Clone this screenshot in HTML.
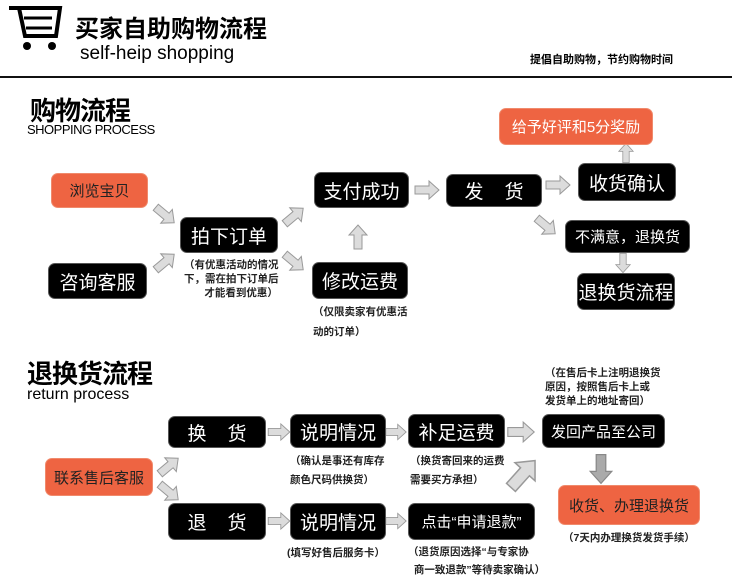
<!DOCTYPE html>
<html><head><meta charset="utf-8"><style>
body{margin:0;width:732px;height:578px;background:#fff;position:relative;overflow:hidden;font-family:"Liberation Sans","Noto Sans CJK SC",sans-serif;}
.a{position:absolute;white-space:nowrap;}
.b{position:absolute;background:#000;color:#fff;border-radius:7px;border:1px solid #555;display:flex;align-items:center;justify-content:center;font-size:19px;box-sizing:border-box;white-space:nowrap;}
.o{background:#ee6442;border-color:#f08a6c;}
.s{position:absolute;font-size:10.5px;font-weight:bold;color:#222;line-height:17px;white-space:nowrap;}
</style></head><body>
<svg class="a" style="left:0;top:0" width="732" height="578">
<g stroke="#000" fill="none" stroke-width="4">
<path d="M9 8 H19 L25 36 H56 L60 8 H19"/>
<path d="M24 18 H52 M26 28 H52" stroke-width="3"/>
</g>
<circle cx="27" cy="46" r="4" fill="#000"/><circle cx="52" cy="46" r="4" fill="#000"/>
<line x1="0" y1="77" x2="732" y2="77" stroke="#111" stroke-width="2"/>
<defs><path id="ar" d="M-12,-4 H2 V-9 L12,0 L2,9 V4 H-12 Z" fill="#dcdcdc" stroke="#999" stroke-width="1"/>
<path id="ad" d="M-12,-4 H2 V-9 L12,0 L2,9 V4 H-12 Z" fill="#aaa" stroke="#888" stroke-width="1"/></defs>
<use href="#ar" transform="translate(165,215) rotate(40)"/>
<use href="#ar" transform="translate(165,262) rotate(-40)"/>
<use href="#ar" transform="translate(294,216) rotate(-40)"/>
<use href="#ar" transform="translate(294,262) rotate(40)"/>
<use href="#ar" transform="translate(358,237) rotate(-90)"/>
<use href="#ar" transform="translate(427,190)"/>
<use href="#ar" transform="translate(558,185)"/>
<use href="#ar" transform="translate(546,226) rotate(40)"/>
<use href="#ar" transform="translate(626,153) rotate(-90) scale(0.8)"/>
<use href="#ar" transform="translate(623,263) rotate(90) scale(0.8)"/>
<use href="#ar" transform="translate(169,466) rotate(-40)"/>
<use href="#ar" transform="translate(169,492) rotate(40)"/>
<use href="#ar" transform="translate(279,432) scale(0.9)"/>
<use href="#ar" transform="translate(396,432) scale(0.85)"/>
<use href="#ar" transform="translate(521,432) scale(1.1)"/>
<use href="#ar" transform="translate(279,521) scale(0.9)"/>
<use href="#ar" transform="translate(396,521) scale(0.85)"/>
<use href="#ar" transform="translate(523,474) rotate(-48) scale(1.5)"/>
<use href="#ad" transform="translate(601,469) rotate(90) scale(1.2)"/>
</svg>
<div class="a" style="left:75px;top:9px;font-size:24px;font-weight:bold;">买家自助购物流程</div>
<div class="a" style="left:80px;top:43px;font-size:19px;">self-heip shopping</div>
<div class="a" style="left:530px;top:51px;font-size:11px;font-weight:bold;">提倡自助购物，节约购物时间</div>
<div class="a" style="left:30px;top:91px;font-size:26px;font-weight:bold;letter-spacing:-1px;">购物流程</div>
<div class="a" style="left:27px;top:122px;font-size:13px;letter-spacing:-0.5px;">SHOPPING PROCESS</div>
<div class="b o" style="left:499px;top:108px;width:154px;height:37px;font-size:15px;">给予好评和5分奖励</div>
<div class="b o" style="left:51px;top:173px;width:97px;height:35px;font-size:15px;color:#222;">浏览宝贝</div>
<div class="b" style="left:314px;top:172px;width:95px;height:36px;">支付成功</div>
<div class="b" style="left:446px;top:174px;width:96px;height:33px;">发&nbsp;&nbsp;&nbsp;&nbsp;货</div>
<div class="b" style="left:578px;top:163px;width:98px;height:38px;">收货确认</div>
<div class="b" style="left:180px;top:217px;width:98px;height:36px;">拍下订单</div>
<div class="b" style="left:48px;top:263px;width:99px;height:36px;">咨询客服</div>
<div class="b" style="left:312px;top:262px;width:96px;height:37px;">修改运费</div>
<div class="b" style="left:565px;top:220px;width:125px;height:33px;font-size:15px;">不满意，退换货</div>
<div class="b" style="left:577px;top:273px;width:98px;height:37px;">退换货流程</div>
<div class="s" style="left:184px;top:258px;line-height:14px;">（有优惠活动的情况<br>下，需在拍下订单后<br>&nbsp;&nbsp;&nbsp;&nbsp;&nbsp;&nbsp;&nbsp;才能看到优惠）</div>
<div class="s" style="left:313px;top:302px;line-height:20px;">（仅限卖家有优惠活<br>动的订单）</div>
<div class="a" style="left:27px;top:354px;font-size:26px;font-weight:bold;letter-spacing:-1px;">退换货流程</div>
<div class="a" style="left:27px;top:386px;font-size:16px;">return process</div>
<div class="s" style="left:545px;top:366px;line-height:14px;">（在售后卡上注明退换货<br>原因，按照售后卡上或<br>发货单上的地址寄回）</div>
<div class="b" style="left:168px;top:416px;width:98px;height:32px;">换&nbsp;&nbsp;&nbsp;&nbsp;货</div>
<div class="b" style="left:290px;top:414px;width:96px;height:34px;">说明情况</div>
<div class="b" style="left:408px;top:414px;width:97px;height:34px;">补足运费</div>
<div class="b" style="left:542px;top:414px;width:123px;height:34px;font-size:15px;">发回产品至公司</div>
<div class="b o" style="left:45px;top:458px;width:108px;height:38px;font-size:15px;color:#222;">联系售后客服</div>
<div class="b" style="left:168px;top:503px;width:98px;height:37px;">退&nbsp;&nbsp;&nbsp;&nbsp;货</div>
<div class="b" style="left:290px;top:503px;width:96px;height:37px;">说明情况</div>
<div class="b" style="left:408px;top:503px;width:127px;height:37px;font-size:15px;">点击“申请退款”</div>
<div class="b o" style="left:558px;top:485px;width:142px;height:40px;font-size:15px;color:#222;">收货、办理退换货</div>
<div class="s" style="left:563px;top:530px;">（7天内办理换货发货手续）</div>
<div class="s" style="left:290px;top:452px;line-height:19px;">（确认是事还有库存<br>颜色尺码供换货）</div>
<div class="s" style="left:410px;top:452px;line-height:19px;">（换货寄回来的运费<br>需要买方承担）</div>
<div class="s" style="left:287px;top:545px;">(填写好售后服务卡）</div>
<div class="s" style="left:408px;top:543px;line-height:18px;">（退货原因选择“与专家协<br>&nbsp;&nbsp;商一致退款”等待卖家确认）</div>
</body></html>
